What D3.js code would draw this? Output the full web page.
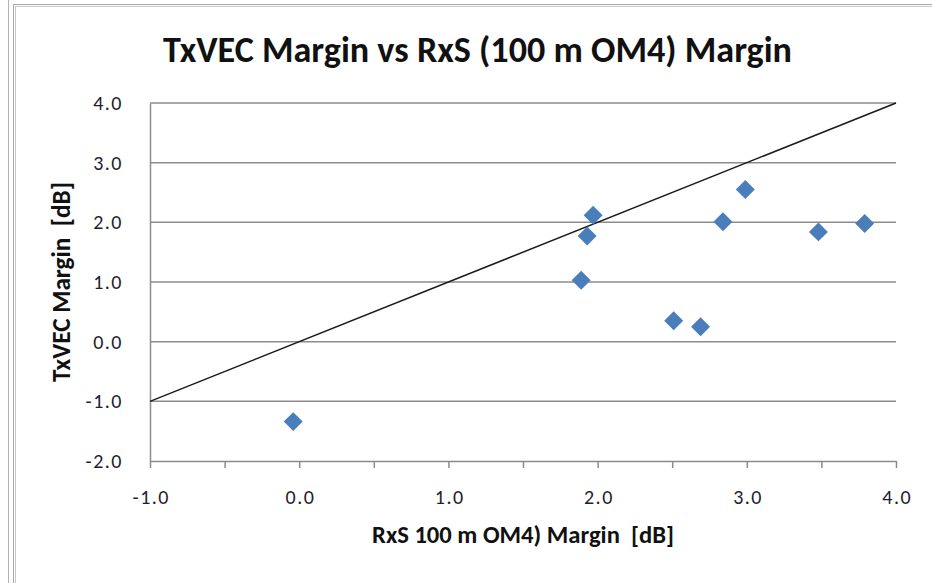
<!DOCTYPE html>
<html><head><meta charset="utf-8">
<script src="https://cdn.jsdelivr.net/npm/d3@7"></script>
<style>body{margin:0;background:#fff}svg{display:block}text{white-space:pre}</style>
</head><body>
<svg id="c" width="932" height="583"></svg>
<script>
const xValues = [-0.04, 1.89, 1.93, 1.97, 2.51, 2.69, 2.84, 2.99, 3.48, 3.79];
const yValues = [-1.34, 1.03, 1.77, 2.12, 0.35, 0.25, 2.01, 2.55, 1.84, 1.98];
const xTickLabels = ["-1.0", "0.0", "1.0", "2.0", "3.0", "4.0"];
const yTickLabels = ["-2.0", "-1.0", "0.0", "1.0", "2.0", "3.0", "4.0"];
const refLine = [[-1, -1], [4, 4]];
const chartTitle = "TxVEC Margin vs RxS (100 m OM4) Margin";
const xTitle = "RxS 100 m OM4) Margin  [dB]";
const yTitle = "TxVEC Margin  [dB]";

(function () {
const svg = d3.select("#c");
const W = 932, H = 583;
const pL = 150, pR = 896, pT = 103, pB = 461;
const x = d3.scaleLinear().domain([-1, 4]).range([pL, pR]);
const y = d3.scaleLinear().domain([-2, 4]).range([pB, pT]);
const font = "Calibri, Carlito, Lato, 'Open Sans', 'Liberation Sans', sans-serif";
const tickFont = 20;

// outer frame lines
svg.append("line").attr("x1", 8.5).attr("x2", 8.5).attr("y1", 0).attr("y2", H).attr("stroke", "#b4b4b4").attr("stroke-width", 1);
svg.append("line").attr("x1", 13.5).attr("x2", 13.5).attr("y1", 4).attr("y2", H).attr("stroke", "#a8a8a8").attr("stroke-width", 1);
svg.append("line").attr("x1", 15.5).attr("x2", 15.5).attr("y1", 6).attr("y2", H).attr("stroke", "#c8c8c8").attr("stroke-width", 1);
svg.append("line").attr("x1", 13).attr("x2", W).attr("y1", 4.5).attr("y2", 4.5).attr("stroke", "#a8a8a8").attr("stroke-width", 1);
svg.append("line").attr("x1", 15).attr("x2", W).attr("y1", 6.5).attr("y2", 6.5).attr("stroke", "#c8c8c8").attr("stroke-width", 1);

// gridlines
const yTickVals = yTickLabels.map(Number);
svg.append("g").selectAll("line").data(yTickVals.filter(v => v > -2)).join("line")
  .attr("x1", pL).attr("x2", pR)
  .attr("y1", d => y(d)).attr("y2", d => y(d))
  .attr("stroke", "#8c8c8c").attr("stroke-width", 1.5);

// y axis (no tick marks)
const yAxis = d3.axisLeft(y).tickValues(yTickVals).tickSize(0).tickPadding(27)
  .tickFormat((d, i) => yTickLabels[i]);
const gy = svg.append("g").attr("transform", `translate(${pL},0)`).call(yAxis);
gy.select(".domain").attr("stroke", "#8c8c8c").attr("stroke-width", 1.5);
gy.selectAll("text").attr("font-family", font).attr("font-size", tickFont).attr("letter-spacing", 1.5).attr("fill", "#1e1e2e");

// x axis with minor ticks every 0.5
const xTickVals = xTickLabels.map(Number);
const xAxis = d3.axisBottom(x).tickValues(d3.range(-1, 4.01, 0.5)).tickSizeInner(7).tickSizeOuter(0).tickPadding(22)
  .tickFormat(d => { const i = xTickVals.indexOf(d); return i >= 0 ? xTickLabels[i] : ""; });
const gx = svg.append("g").attr("transform", `translate(0,${pB})`).call(xAxis);
gx.select(".domain").attr("stroke", "#8c8c8c").attr("stroke-width", 1.5);
gx.selectAll(".tick line").attr("stroke", "#8c8c8c").attr("stroke-width", 1.5);
gx.selectAll("text").attr("font-family", font).attr("font-size", tickFont).attr("letter-spacing", 1.5).attr("dx", 0.75).attr("fill", "#1e1e2e");

// reference line y = x
svg.append("path").datum(refLine)
  .attr("d", d3.line().x(d => x(d[0])).y(d => y(d[1])))
  .attr("stroke", "#1a1a1a").attr("stroke-width", 1.5).attr("fill", "none");

// points
const pts = xValues.map((v, i) => [v, yValues[i]]);
svg.append("g").selectAll("path").data(pts).join("path")
  .attr("d", d3.symbol().type(d3.symbolSquare).size(180))
  .attr("transform", d => `translate(${x(d[0])},${y(d[1])}) rotate(45)`)
  .attr("fill", "#4a7ebb");

function fit(sel, target) {
  const w = sel.node().getComputedTextLength();
  const fs = parseFloat(sel.attr("font-size"));
  sel.attr("font-size", fs * target / w);
}

const t = svg.append("text").attr("x", 477.5).attr("y", 62).attr("text-anchor", "middle")
  .attr("font-family", font).attr("font-weight", "bold").attr("font-size", 28).attr("fill", "#111").text(chartTitle);
fit(t, 629);

const xt = svg.append("text").attr("x", 523).attr("y", 543).attr("text-anchor", "middle")
  .attr("font-family", font).attr("font-weight", "bold").attr("font-size", 17).attr("fill", "#111").text(xTitle);
fit(xt, 302);

const yt = svg.append("text").attr("transform", "translate(70,282) rotate(-90)").attr("text-anchor", "middle")
  .attr("font-family", font).attr("font-weight", "bold").attr("font-size", 17).attr("fill", "#111").text(yTitle);
fit(yt, 200);
})();
</script>
</body></html>
